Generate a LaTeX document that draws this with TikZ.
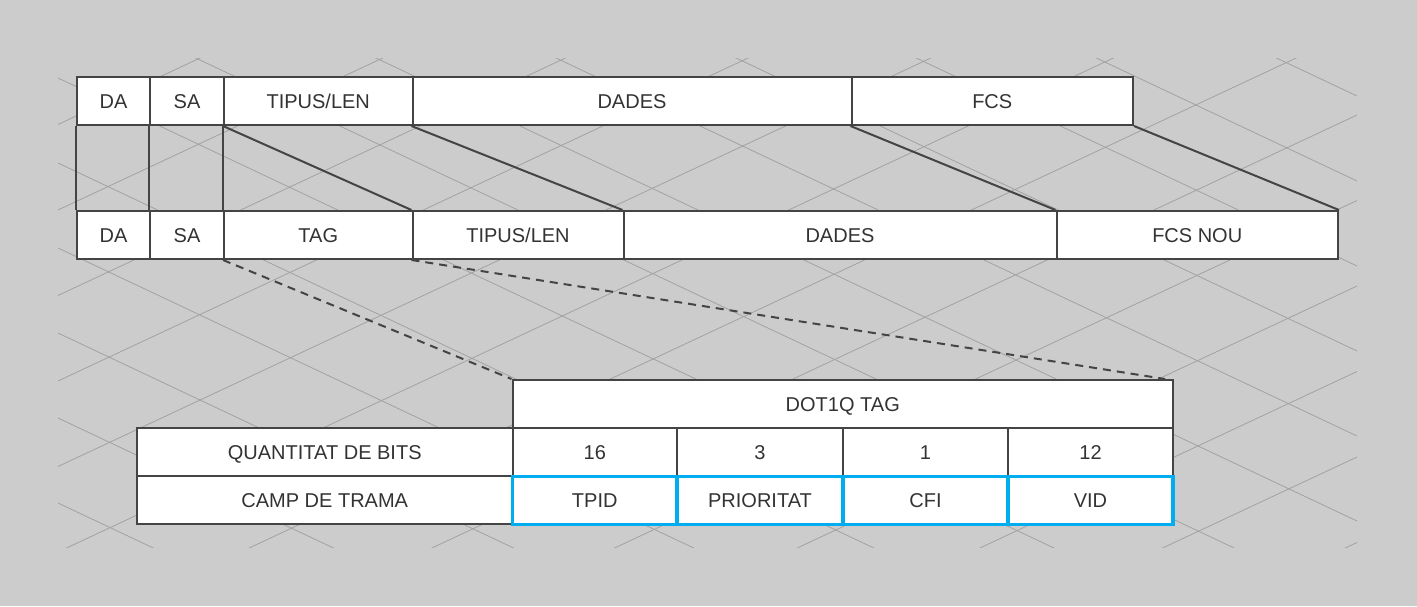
\documentclass[tikz,border=0pt]{standalone}
\usepackage{fontspec}
\setmainfont{Liberation Sans}
\definecolor{bgc}{RGB}{204,204,204}
\definecolor{gridc}{RGB}{162,162,162}
\definecolor{linec}{RGB}{68,68,68}
\definecolor{textc}{RGB}{51,51,51}
\definecolor{bluec}{RGB}{0,174,239}
\begin{document}
\begin{tikzpicture}[x=1pt,y=-1pt,
  cell/.style={draw=linec, line width=2pt, fill=white, inner sep=0pt,
    minimum height=48pt, text height=14.3pt, text depth=0pt,
    text=textc, font=\fontsize{20}{24}\selectfont},
  bluecell/.style={cell, draw=bluec, line width=3.2pt},
  conn/.style={draw=linec, line width=2pt},
  dconn/.style={draw=linec, line width=2pt, dash pattern=on 8pt off 6pt},
  gridline/.style={draw=gridc, line width=0.8pt}]
\fill[bgc] (0,0) rectangle (1417,606);
\useasboundingbox (0,0) rectangle (1417,606);
% background lattice
\begin{scope}
\clip (58,58) rectangle (1357,547);
\foreach \m in {-9,...,3}{
  \pgfmathsetmacro{\cu}{286+85.5*\m}
  \pgfmathsetmacro{\cl}{\cu+608}
  \draw[gridline] (58,\cl) -- (1357,\cu);
}
\foreach \k in {-7,...,5}{
  \pgfmathsetmacro{\cd}{78+85*\k}
  \pgfmathsetmacro{\cr}{\cd+613}
  \draw[gridline] (58,\cd) -- (1357,\cr);
}
\end{scope}
% original frame
\node[cell, minimum width=73pt]    (tda)  at (113.5,101) {DA};
\node[cell, minimum width=74pt]    (tsa)  at (187,101) {SA};
\node[cell, minimum width=188.5pt] (ttl)  at (318.25,101) {TIPUS/LEN};
\node[cell, minimum width=439pt]   (tdd)  at (632,101) {DADES};
\node[cell, minimum width=281.5pt] (tfcs) at (992.25,101) {FCS};
% tagged frame
\node[cell, minimum width=73pt]    (bda)  at (113.5,235) {DA};
\node[cell, minimum width=74pt]    (bsa)  at (187,235) {SA};
\node[cell, minimum width=188.5pt] (btag) at (318.25,235) {TAG};
\node[cell, minimum width=211pt]   (btl)  at (518,235) {TIPUS/LEN};
\node[cell, minimum width=433pt]   (bdd)  at (840,235) {DADES};
\node[cell, minimum width=281.5pt] (bfcs) at (1197.25,235) {FCS NOU};
% connectors between frames
\draw[conn] (tda.south west) -- (bda.north west);
\draw[conn] (tsa.south west) -- (bsa.north west);
\draw[conn] (ttl.south west) -- (btag.north west);
\draw[conn] (ttl.south west) -- (btl.north west);
\draw[conn] (tdd.south west) -- (bdd.north west);
\draw[conn] (tfcs.south west) -- (bfcs.north west);
\draw[conn] (tfcs.south east) -- (bfcs.north east);
% tag table
\node[cell, minimum width=660.5pt] (dot) at (842.75,404) {DOT1Q TAG};
\node[cell, minimum width=375.5pt] (qb)  at (324.75,452) {QUANTITAT DE BITS};
\node[cell, minimum width=164.5pt] (n16) at (594.75,452) {16};
\node[cell, minimum width=166pt]   (n3)  at (760,452) {3};
\node[cell, minimum width=165pt]   (n1)  at (925.5,452) {1};
\node[cell, minimum width=165pt]   (n12) at (1090.5,452) {12};
\node[cell, minimum width=375.5pt] (ct)  at (324.75,500.25) {CAMP DE TRAMA};
\node[bluecell, minimum width=164.5pt] (tpid) at (594.75,500.25) {TPID};
\node[bluecell, minimum width=166pt]   (prio) at (760,500.25) {PRIORITAT};
\node[bluecell, minimum width=165pt]   (cfi)  at (925.5,500.25) {CFI};
\node[bluecell, minimum width=165pt]   (vid)  at (1090.5,500.25) {VID};
% dashed zoom lines
\coordinate (dotend) at ([xshift=-9pt]dot.north east);
\draw[dconn] (btag.south west) -- (dot.north west);
\draw[dconn] (btl.south west) -- (dotend);
\end{tikzpicture}
\end{document}
